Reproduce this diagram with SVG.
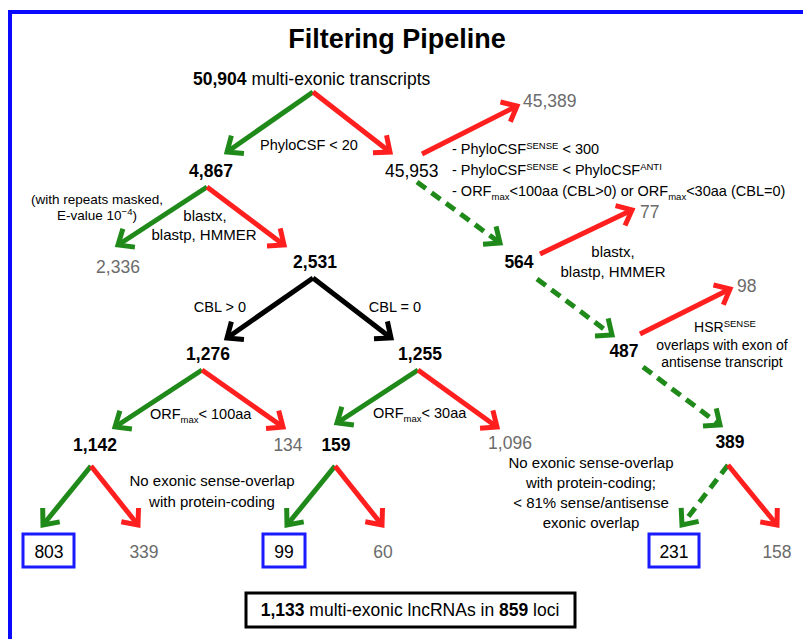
<svg xmlns="http://www.w3.org/2000/svg" width="803" height="639" viewBox="0 0 803 639">
<style>
text{font-family:"Liberation Sans",Arial,sans-serif;fill:#000}
.t{font-size:27px;font-weight:bold}
.n{font-size:17.5px}
.b{font-weight:bold}
.g{fill:#6b6b6b}
.l{font-size:14.5px}
.s{font-size:15px}
.m{text-anchor:middle}
.sup{font-size:9.5px}
.a{fill:none;stroke-width:5}
.gr{stroke:#1f8a1a}
.rd{stroke:#ff1f1f}
.bk{stroke:#000}
.d{stroke-dasharray:11 7}
.bx{fill:none;stroke:#1a1aff;stroke-width:3}
</style>
<defs>
<marker id="mg" markerUnits="userSpaceOnUse" orient="auto" overflow="visible" refX="0" refY="0"><path d="M-13,-11 L0,0 L-13,11" fill="none" stroke="#1f8a1a" stroke-width="5"/></marker>
<marker id="mr" markerUnits="userSpaceOnUse" orient="auto" overflow="visible" refX="0" refY="0"><path d="M-13,-11 L0,0 L-13,11" fill="none" stroke="#ff1f1f" stroke-width="5"/></marker>
<marker id="mk" markerUnits="userSpaceOnUse" orient="auto" overflow="visible" refX="0" refY="0"><path d="M-13,-11 L0,0 L-13,11" fill="none" stroke="#000" stroke-width="5"/></marker>
</defs>
<rect width="803" height="639" fill="#fff"/>
<path d="M10,645 L10,12 L810,12" fill="none" stroke="#0a0aff" stroke-width="4"/>
<text class="t m" x="397" y="48">Filtering Pipeline</text>

<g id="connectors">
<line class="a gr" x1="313" y1="92" x2="227" y2="152" marker-end="url(#mg)"/>
<line class="a rd" x1="313" y1="92" x2="390" y2="152" marker-end="url(#mr)"/>
<line class="a rd" x1="422" y1="154" x2="517" y2="106" marker-end="url(#mr)"/>
<line class="a gr d" x1="417" y1="182" x2="500" y2="243" marker-end="url(#mg)"/>
<line class="a rd" x1="540" y1="254" x2="632" y2="210" marker-end="url(#mr)"/>
<line class="a gr d" x1="537" y1="279" x2="612" y2="335" marker-end="url(#mg)"/>
<line class="a rd" x1="640" y1="334" x2="730" y2="289" marker-end="url(#mr)"/>
<line class="a gr d" x1="643" y1="367" x2="720" y2="425" marker-end="url(#mg)"/>
<line class="a gr d" x1="728" y1="465" x2="682" y2="525" marker-end="url(#mg)"/>
<line class="a rd" x1="728" y1="465" x2="777" y2="525" marker-end="url(#mr)"/>
<line class="a gr" x1="207" y1="187" x2="118" y2="245" marker-end="url(#mg)"/>
<line class="a rd" x1="207" y1="187" x2="284" y2="245" marker-end="url(#mr)"/>
<line class="a bk" x1="313" y1="278" x2="227" y2="338" marker-end="url(#mk)"/>
<line class="a bk" x1="313" y1="278" x2="391" y2="338" marker-end="url(#mk)"/>
<line class="a gr" x1="202" y1="370" x2="115" y2="427" marker-end="url(#mg)"/>
<line class="a rd" x1="202" y1="370" x2="283" y2="427" marker-end="url(#mr)"/>
<line class="a gr" x1="418" y1="370" x2="337" y2="423" marker-end="url(#mg)"/>
<line class="a rd" x1="418" y1="370" x2="497" y2="427" marker-end="url(#mr)"/>
<line class="a gr" x1="91" y1="466" x2="43" y2="525" marker-end="url(#mg)"/>
<line class="a rd" x1="91" y1="466" x2="138" y2="525" marker-end="url(#mr)"/>
<line class="a gr" x1="335" y1="466" x2="287" y2="525" marker-end="url(#mg)"/>
<line class="a rd" x1="335" y1="466" x2="382" y2="525" marker-end="url(#mr)"/>
</g>

<g id="n50904"><text class="n" x="193" y="85"><tspan class="b">50,904</tspan> multi-exonic transcripts</text></g>
<g id="lPhylo"><text class="l" x="260" y="150">PhyloCSF &lt; 20</text></g>
<g id="n4867"><text class="n b m" x="211" y="177">4,867</text></g>
<g id="n45953"><text class="n" x="385" y="177">45,953</text></g>
<g id="n45389"><text class="n g" x="523" y="107">45,389</text></g>
<g id="lCrit">
<text class="l" x="452" y="154">- PhyloCSF<tspan class="sup" dy="-5">SENSE</tspan><tspan dy="5"> &lt; 300</tspan></text>
<text class="l" x="452" y="175">- PhyloCSF<tspan class="sup" dy="-5">SENSE</tspan><tspan dy="5"> &lt; PhyloCSF</tspan><tspan class="sup" dy="-5">ANTI</tspan></text>
<text class="l" x="452" y="196">- ORF<tspan class="sup" dy="4">max</tspan><tspan dy="-4">&lt;100aa (CBL&gt;0) or ORF</tspan><tspan class="sup" dy="4">max</tspan><tspan dy="-4">&lt;30aa (CBL=0)</tspan></text>
</g>
<g id="lRepeats">
<text class="m" style="font-size:13.5px" x="97" y="204">(with repeats masked,</text>
<text class="m" style="font-size:13.5px" x="97" y="220">E-value 10<tspan class="sup" dy="-5">−4</tspan><tspan dy="5">)</tspan></text>
</g>
<g id="lBlast1">
<text class="s m" x="205" y="221">blastx,</text>
<text class="s m" x="204" y="240">blastp, HMMER</text>
</g>
<g id="n2336"><text class="n g m" x="118" y="273">2,336</text></g>
<g id="n2531"><text class="n b m" x="315" y="268">2,531</text></g>
<g id="lCBL"><text class="l m" x="220" y="312">CBL &gt; 0</text><text class="l m" x="395" y="312">CBL = 0</text></g>
<g id="n1276"><text class="n b m" x="208" y="360">1,276</text></g>
<g id="n1255"><text class="n b m" x="420" y="360">1,255</text></g>
<g id="lORF1"><text class="l" x="150" y="419">ORF<tspan class="sup" dy="4">max</tspan><tspan dy="-4">&lt; 100aa</tspan></text></g>
<g id="lORF2"><text class="l" x="373" y="418">ORF<tspan class="sup" dy="4">max</tspan><tspan dy="-4">&lt; 30aa</tspan></text></g>
<g id="n1142"><text class="n b m" x="95" y="451">1,142</text></g>
<g id="n134"><text class="n g m" x="288" y="451">134</text></g>
<g id="n159"><text class="n b m" x="336" y="451">159</text></g>
<g id="n1096"><text class="n g m" x="510" y="449">1,096</text></g>
<g id="lOverlap1">
<text class="s m" x="212" y="486">No exonic sense-overlap</text>
<text class="s m" x="212" y="507">with protein-coding</text>
</g>
<g id="n803"><rect class="bx" x="23" y="534" width="51" height="33"/><text class="n m" x="49" y="558">803</text></g>
<g id="n339"><text class="n g m" x="144" y="558">339</text></g>
<g id="n99"><rect class="bx" x="263" y="534" width="42" height="33"/><text class="n m" x="284" y="558">99</text></g>
<g id="n60"><text class="n g m" x="383" y="558">60</text></g>
<g id="n564"><text class="n b m" x="519" y="268">564</text></g>
<g id="n77"><text class="n g" x="640" y="218">77</text></g>
<g id="lBlast2">
<text class="s m" x="613" y="257">blastx,</text>
<text class="s m" x="613" y="277">blastp, HMMER</text>
</g>
<g id="n487"><text class="n b m" x="624" y="357">487</text></g>
<g id="n98"><text class="n g" x="737" y="292">98</text></g>
<g id="lHSR">
<text class="m" style="font-size:14px" x="725" y="332">HSR<tspan class="sup" dy="-5">SENSE</tspan></text>
<text class="m" style="font-size:14px" x="722" y="350">overlaps with exon of</text>
<text class="m" style="font-size:14px" x="722" y="367">antisense transcript</text>
</g>
<g id="n389"><text class="n b m" x="730" y="448">389</text></g>
<g id="lOverlap2">
<text class="s m" x="591" y="468">No exonic sense-overlap</text>
<text class="s m" x="591" y="488">with protein-coding;</text>
<text class="s m" x="591" y="508">&lt; 81% sense/antisense</text>
<text class="s m" x="591" y="528">exonic overlap</text>
</g>
<g id="n231"><rect class="bx" x="649" y="534" width="50" height="33"/><text class="n m" x="674" y="558">231</text></g>
<g id="n158"><text class="n g m" x="777" y="558">158</text></g>
<g id="nFinal"><rect x="246" y="593" width="329" height="34" fill="none" stroke="#000" stroke-width="3"/><text class="n m" x="410" y="616"><tspan class="b">1,133</tspan> multi-exonic lncRNAs in <tspan class="b">859</tspan> loci</text></g>
</svg>
